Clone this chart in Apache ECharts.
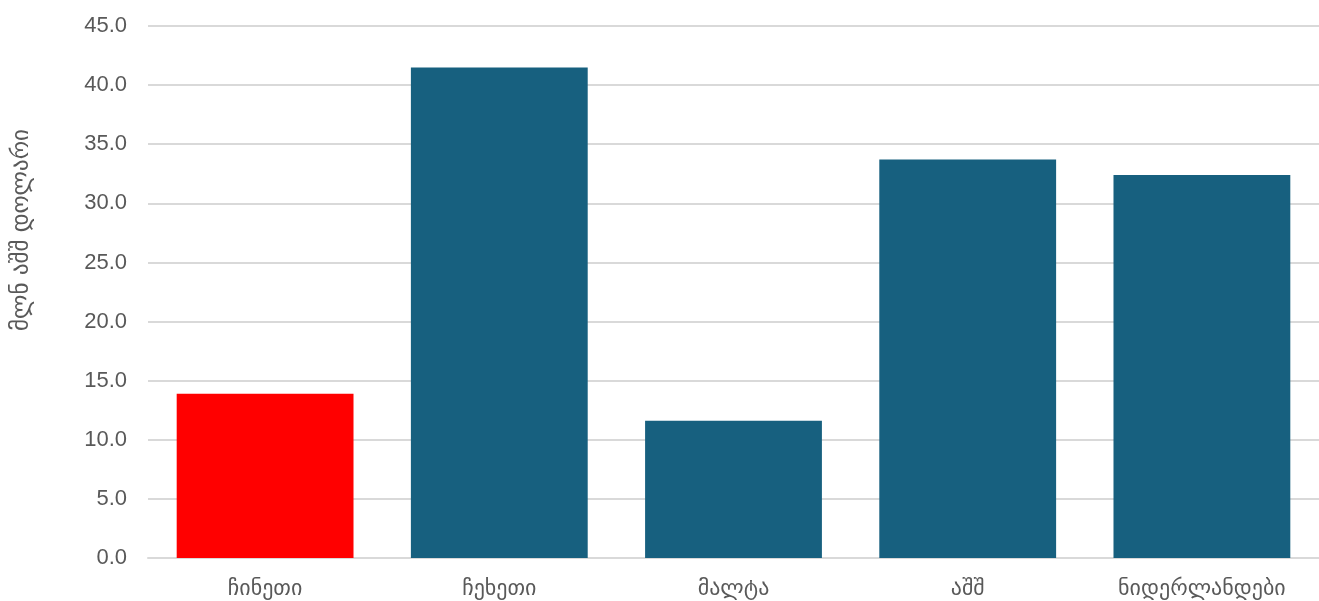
<!DOCTYPE html>
<html>
<head>
<meta charset="utf-8">
<script src="https://cdn.jsdelivr.net/npm/echarts@6/dist/echarts.min.js"></script>
<style>
html,body{margin:0;padding:0;background:#fff;}
#chart{width:1319px;height:601px;}
</style>
</head>
<body>
<div id="chart"></div>
<script>
const categories = ['ჩინეთი', 'ჩეხეთი', 'მალტა', 'აშშ', 'ნიდერლანდები'];
const values = [13.9, 41.5, 11.6, 33.7, 32.4];
const barColors = ['#FF0000', '#17607F', '#17607F', '#17607F', '#17607F'];
const yTickStep = 5;
const yMax = 45;
const yTitle = 'მლნ აშშ დოლარი';

const chart = echarts.init(document.getElementById('chart'), null, {renderer: 'canvas'});
chart.setOption({
  animation: false,
  backgroundColor: '#ffffff',
  grid: {left: 148, right: -5, top: 26, bottom: 43, containLabel: false},
  xAxis: {
    type: 'category',
    data: categories,
    axisLine: {show: true, lineStyle: {color: '#d9d9d9', width: 2}},
    axisTick: {show: false},
    axisLabel: {
      color: '#595959',
      fontSize: 22,
      fontFamily: '"DejaVu Sans", "Liberation Sans", sans-serif',
      margin: 20
    }
  },
  yAxis: {
    type: 'value',
    min: 0,
    max: yMax,
    interval: yTickStep,
    name: yTitle,
    nameLocation: 'middle',
    nameRotate: 90,
    nameGap: 114,
    nameTextStyle: {
      color: '#595959',
      fontSize: 23,
      fontFamily: '"DejaVu Sans", "Liberation Sans", sans-serif',
      padding: [0, 0, 0, 124]
    },
    axisLine: {show: false},
    axisTick: {show: false},
    axisLabel: {
      color: '#595959',
      fontSize: 22,
      fontFamily: '"Liberation Sans", Arial, sans-serif',
      margin: 21,
      formatter: v => v.toFixed(1)
    },
    splitLine: {show: true, lineStyle: {color: '#d9d9d9', width: 2}}
  },
  series: [{
    type: 'bar',
    data: values.map((v, i) => ({value: v, itemStyle: {color: barColors[i]}})),
    barWidth: '75.5%'
  }]
});
</script>
</body>
</html>
